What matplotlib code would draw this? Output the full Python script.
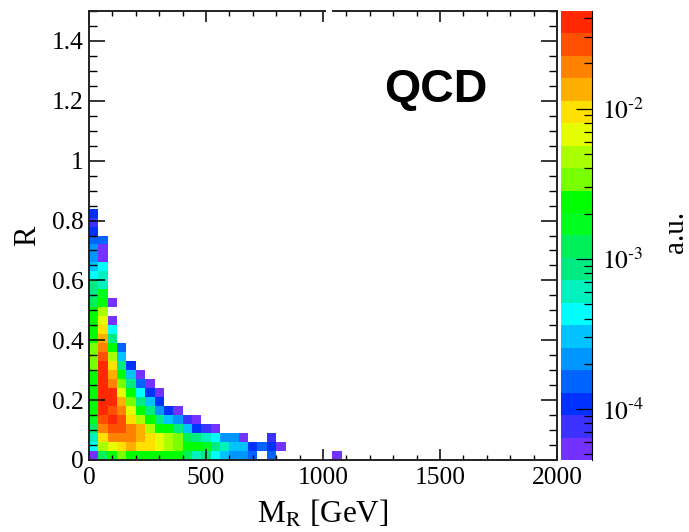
import numpy as np
import matplotlib
matplotlib.use("Agg")
import matplotlib.pyplot as plt
from matplotlib.colors import ListedColormap, LogNorm
from matplotlib.patches import Rectangle
from matplotlib.ticker import FixedLocator, MultipleLocator, NullFormatter

plt.rcParams["font.family"] = ["Liberation Serif", "DejaVu Serif"]
plt.rcParams["mathtext.fontset"] = "stix"

W, H = 689, 532

# palette, lowest band first
band_colors = ["#7332ff", "#3c32ff", "#0032ff", "#0064ff", "#0096ff", "#00c3ff", "#00ffff",
               "#00f0be", "#00eb82", "#00f05a", "#00ff1e", "#00ff00", "#78ff00", "#aaff00",
               "#e6ff00", "#ffe100", "#ffaf00", "#ff8200", "#ff5000", "#ff2800"]
log_min, log_max = -4.34, -1.35

# colour band (1-20) of each filled bin; rows run upward from R=0, columns from M_R=0
row_bands = [
    [1, 10, 12, 13, 12, 12, 12, 12, 12, 12, 10, 8, 9, 7, 6, 5, 5, 4, 0, 4, 0, 0, 0, 0, 0, 0, 1],
    [7, 14, 15, 16, 17, 16, 16, 15, 14, 13, 12, 12, 11, 9, 8, 6, 6, 3, 4, 3, 1],
    [8, 16, 18, 18, 18, 17, 16, 15, 14, 13, 10, 9, 8, 7, 5, 5, 1, 0, 0, 2],
    [10, 18, 19, 19, 18, 17, 14, 12, 12, 9, 6, 3, 2, 1],
    [11, 19, 20, 19, 16, 14, 12, 9, 6, 5, 2, 1],
    [12, 20, 19, 18, 15, 12, 9, 5, 3, 1],
    [12, 20, 20, 17, 13, 9, 6, 3],
    [12, 20, 20, 15, 12, 7, 3, 1],
    [12, 20, 18, 13, 9, 4, 1],
    [12, 20, 17, 12, 6, 1],
    [13, 20, 16, 9, 3],
    [13, 19, 14, 6],
    [13, 18, 12, 4],
    [12, 17, 9],
    [12, 16, 7],
    [12, 15, 1],
    [12, 14],
    [10, 12, 1],
    [9, 11],
    [9, 8],
    [7, 8],
    [6, 7],
    [5, 1],
    [5, 1],
    [4, 4],
    [3],
    [2],
    [3],
]

n_x, n_y = 50, 50
x_range = (0, 2000)
y_range = (0, 1.5)
x_major = [0, 500, 1000, 1500, 2000]
y_major = [0, 0.2, 0.4, 0.6, 0.8, 1.0, 1.2, 1.4]
y_labels = ["0", "0.2", "0.4", "0.6", "0.8", "1", "1.2", "1.4"]
cbar_major = [1e-4, 1e-3, 1e-2]
cbar_labels = [r"$10^{\text{-}4}$", r"$10^{\text{-}3}$", r"$10^{\text{-}2}$"]
cbar_minor = [m * 10.0 ** e for e in (-5, -4, -3, -2) for m in range(2, 10)]

step = (log_max - log_min) / len(band_colors)
grid = np.full((n_y, n_x), np.nan)
for r, row in enumerate(row_bands):
    for c, b in enumerate(row):
        if b:
            grid[r, c] = 10 ** (log_min + (b - 0.5) * step)

fig = plt.figure(figsize=(W / 100, H / 100), dpi=100)


def box(x0, y0, x1, y1):
    return [x0 / W, 1 - y1 / H, (x1 - x0) / W, (y1 - y0) / H]


ax = fig.add_axes(box(89, 11, 557, 460))
cax = fig.add_axes(box(560.5, 11, 592, 460))
cmap = ListedColormap(band_colors)
norm = LogNorm(10 ** log_min, 10 ** log_max)
xe = np.linspace(*x_range, n_x + 1)
ye = np.linspace(*y_range, n_y + 1)
mesh = ax.pcolormesh(xe, ye, np.ma.masked_invalid(grid), cmap=cmap, norm=norm)
ax.set_xlim(x_range)
ax.set_ylim(y_range)

ax.set_xticks(x_major)
ax.set_xticklabels([str(v) for v in x_major])
ax.set_yticks(y_major)
ax.set_yticklabels(y_labels)
ax.xaxis.set_minor_locator(MultipleLocator(100))
ax.yaxis.set_minor_locator(MultipleLocator(0.05))
ax.tick_params(axis="x", which="major", direction="in", top=True, length=8, width=1.1,
               labelsize=18.4, pad=5)
ax.tick_params(axis="x", which="minor", direction="in", top=True, length=3.8, width=1.0)
ax.tick_params(axis="y", which="major", direction="in", right=True, length=11.5, width=1.1,
               labelsize=18.4, pad=4)
ax.tick_params(axis="y", which="minor", direction="in", right=True, length=5.8, width=1.0)
for s in ax.spines.values():
    s.set_linewidth(1.4)
    s.set_color("#222222")

ax.set_xlabel(r"M$_{\mathrm{R}}$ [GeV]", fontsize=22.5, labelpad=7)
ax.set_ylabel("R", fontsize=22, labelpad=7)
ax.text(435.5 / W, 1 - 90 / H, "QCD", transform=fig.transFigure, ha="center", va="center",
        fontsize=33.5, fontweight="bold", family=["Liberation Sans"])

# the small break in the reference's top frame line
fig.add_artist(Rectangle((325.5 / W, 1 - 14 / H), 6.5 / W, 6 / H, transform=fig.transFigure,
                         facecolor="white", edgecolor="none", zorder=10))

cb = fig.colorbar(mesh, cax=cax)
cb.outline.set_visible(False)
cax.spines["right"].set_visible(True)
cax.yaxis.set_major_locator(FixedLocator(cbar_major))
cax.yaxis.set_minor_locator(FixedLocator(cbar_minor))
cax.yaxis.set_minor_formatter(NullFormatter())
cax.set_yticklabels(cbar_labels)
cax.tick_params(which="major", direction="in", right=True, length=11.5, width=0.9,
                labelsize=18.4, pad=7)
cax.tick_params(which="minor", direction="in", right=True, length=5.8, width=0.9)
fig.text(676 / W, 1 - 232 / H, "a.u.", rotation=90, ha="center", va="center", fontsize=21)

fig.savefig("out.png", dpi=100)
